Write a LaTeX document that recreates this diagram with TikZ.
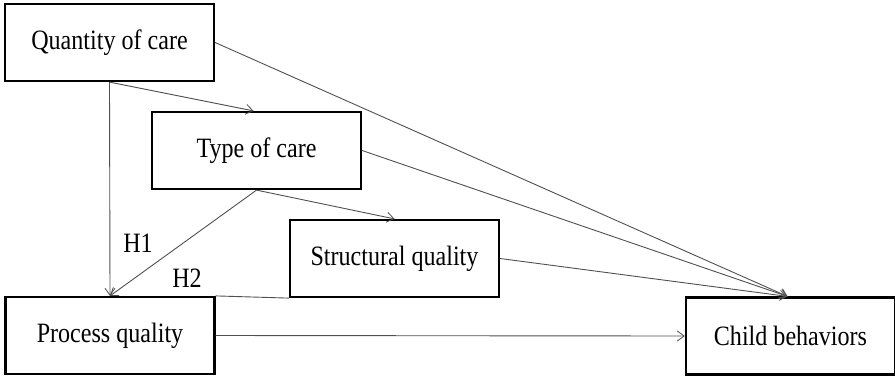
\documentclass[tikz,border=0pt]{standalone}
\usepackage{fontspec}
\setmainfont[FakeStretch=0.86]{Liberation Serif}
\usepackage{xcolor}
\usepackage{tikz}
\usetikzlibrary{arrows.meta, calc}
\definecolor{LineGray}{HTML}{505050}

\begin{document}
\begin{tikzpicture}[
  x=1pt, y=-1pt,
  box/.style={draw=black, line width=2.2pt, fill=white, minimum width=209pt, minimum height=77pt, inner sep=0pt, font=\fontsize{28}{32}\selectfont},
  arr/.style={-{Straight Barb[length=7pt, width=10pt, line width=0.8pt]}, line width=0.9pt, draw=LineGray},
  hlab/.style={font=\fontsize{28}{32}\selectfont}
]
\useasboundingbox (0,0) rectangle (895,376);
\node[box] (qty) at (109.5,42.5) {Quantity of care};
\node[box] (type) at (256.5,150.5) {Type of care};
\node[box] (struct) at (394.5,258.5) {Structural quality};
\node[box] (proc) at (110,335.5) {Process quality};
\node[box] (child) at (790.5,336) {Child behaviors};
\draw[arr] (qty.south) -- (proc.north);
\draw[arr] (qty.south) -- ($(type.north)+(-3,0)$);
\draw[arr] (qty.east) -- ($(child.north)+(-3,0)$);
\draw[arr] (type.east) -- ($(child.north)+(-3,0)$);
\draw[arr] (type.south) -- (struct.north);
\draw[arr] (type.south) -- (proc.north);
\draw[arr] (struct.east) -- ($(child.north)+(-3,0)$);
\draw[arr] (proc.east) -- (child.west);
\draw[line width=0.9pt, draw=LineGray] (proc.north east) -- (struct.south west);
\node[hlab] (h1) at (138,243) {H1};
\node[hlab] (h2) at (187,278) {H2};
\end{tikzpicture}
\end{document}
